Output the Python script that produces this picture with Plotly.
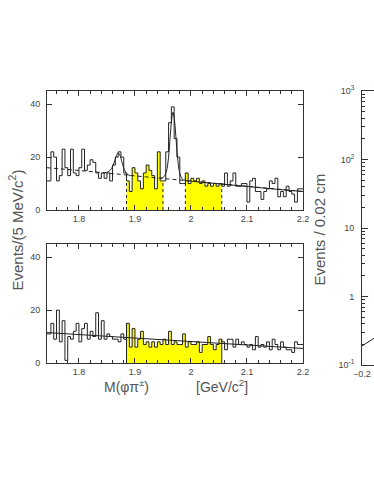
import plotly.graph_objects as go

# ---------------- data ----------------
bin_start = 1.740
bin_width = 0.005

top_counts = [11,
              11, 22, 20, 11, 13, 23, 16, 13, 23, 14, 13, 16, 23, 15, 17, 19, 18, 14, 12, 14, 12, 14, 11, 17, 20, 22, 20, 14,
              11, 7, 16, 14, 11, 8, 14, 17, 15, 13, 8, 22, 11,
              11, 22, 33, 39, 27, 20, 10, 10,
              14, 10, 12, 11, 12, 10, 11, 9, 10, 9, 10, 9, 10,
              9, 14, 9, 11, 14, 9, 9, 10, 10, 3, 11, 12, 7, 7, 4, 7, 8, 11, 10, 12, 5, 7, 5, 9, 7, 6, 3, 8, 8]

bottom_counts = [11,
                 11, 15, 9, 20, 8, 16, 1, 10, 9, 12, 15, 8, 13, 15, 9, 12, 10, 19, 9, 16, 9, 11, 10, 9, 9, 8, 11, 9,
                 15, 6, 13, 6, 9, 12, 7, 8, 6, 8, 6, 8, 7, 9, 7, 12, 7, 8, 7, 7, 11, 6, 8, 7, 7, 8, 4, 7, 7, 10, 7, 5, 7, 9,
                 8, 5, 9, 9, 6, 9, 7, 8, 7, 6, 7, 5, 10, 6, 7, 6, 8, 5, 9, 7, 5, 8, 6, 5, 5, 4, 8, 7, 7]

top_sidebands = [(1.885, 1.95), (1.99, 2.055)]
bottom_sidebands = [(1.885, 2.055)]

# background (dashed) of top fit
top_bkg_x = [1.743, 1.8, 1.85, 1.9, 1.95, 2.0, 2.05, 2.1, 2.15, 2.2]
top_bkg_y = [16.0, 15.0, 14.0, 12.9, 11.9, 10.9, 9.9, 8.9, 7.9, 7.0]
# full fit around D+ peak (solid)
dplus_fit_x = [1.845, 1.852, 1.858, 1.863, 1.867, 1.870, 1.873, 1.877, 1.881, 1.886, 1.892]
dplus_fit_y = [14.1, 14.4, 15.6, 18.0, 20.6, 21.6, 20.8, 18.0, 15.3, 13.6, 13.0]
# full fit around Ds peak and beyond (solid)
ds_fit_x = [1.945, 1.951, 1.956, 1.960, 1.963, 1.966, 1.968, 1.970, 1.973, 1.976, 1.980, 1.985, 1.992, 2.0, 2.05, 2.1, 2.15, 2.2]
ds_fit_y = [12.0, 12.4, 14.5, 20.0, 28.0, 35.0, 37.0, 35.0, 28.0, 20.0, 14.0, 11.6, 11.1, 10.9, 9.9, 8.9, 7.9, 7.0]

bottom_fit_x = [1.743, 2.2]
bottom_fit_y = [11.5, 5.5]

# right (partly visible) panel
right_line_x = [-0.2, -0.145]
right_line_y = [0.19, 0.245]

mass_ticks = [1.8, 1.9, 2.0, 2.1, 2.2]
mass_tick_text = ["1.8", "1.9", "2", "2.1", "2.2"]
count_ticks = [0, 20, 40]
log_ticks = [0.1, 1, 10, 100, 1000]
log_tick_text = ["10<sup>-1</sup>", "1", "10", "10<sup>2</sup>", "10<sup>3</sup>"]

# ---------------- figure ----------------
W, H = 374, 485
def px(x):
    return x / W
def py(y):
    return 1 - y / H

LINE = "#333333"
TXT = "#444444"
FONT = "Liberation Sans, Arial, sans-serif"

fig = go.Figure()

def edges_for(counts):
    return [bin_start + i * bin_width for i in range(len(counts) + 1)]

def add_panel(counts, sidebands, edge_dash, xa, ya):
    edges = edges_for(counts)
    for a, b in sidebands:
        ia = int(round((a - bin_start) / bin_width))
        ib = int(round((b - bin_start) / bin_width))
        xs = edges[ia:ib + 1]
        ys = counts[ia:ib] + [counts[ib - 1]]
        fig.add_trace(go.Scatter(x=xs, y=ys, mode="lines", line=dict(shape="hv", width=0),
                                 fill="tozeroy", fillcolor="#FFFF00", xaxis=xa, yaxis=ya,
                                 hoverinfo="skip", showlegend=False))
    fig.add_trace(go.Scatter(x=edges, y=counts + [counts[-1]], mode="lines",
                             line=dict(shape="hv", width=1, color="#222222"),
                             xaxis=xa, yaxis=ya, showlegend=False))
    for a, b in sidebands:
        ia = int(round((a - bin_start) / bin_width))
        ib = int(round((b - bin_start) / bin_width))
        for xe, v in [(a, counts[ia]), (b, counts[ib - 1])]:
            fig.add_trace(go.Scatter(x=[xe, xe], y=[0, v], mode="lines",
                                     line=dict(width=1, color="#222222", dash=edge_dash),
                                     xaxis=xa, yaxis=ya, showlegend=False))

add_panel(top_counts, top_sidebands, "dot", "x", "y")
add_panel(bottom_counts, bottom_sidebands, "solid", "x2", "y2")

fig.add_trace(go.Scatter(x=top_bkg_x, y=top_bkg_y, mode="lines",
                         line=dict(width=1, color="#222222", dash="4px,3px"),
                         xaxis="x", yaxis="y", showlegend=False))
fig.add_trace(go.Scatter(x=dplus_fit_x, y=dplus_fit_y, mode="lines", line_shape="spline",
                         line=dict(width=1, color="#222222"), xaxis="x", yaxis="y", showlegend=False))
fig.add_trace(go.Scatter(x=ds_fit_x, y=ds_fit_y, mode="lines", line_shape="spline",
                         line=dict(width=1, color="#222222"), xaxis="x", yaxis="y", showlegend=False))
fig.add_trace(go.Scatter(x=bottom_fit_x, y=bottom_fit_y, mode="lines",
                         line=dict(width=1, color="#222222"), xaxis="x2", yaxis="y2", showlegend=False))
fig.add_trace(go.Scatter(x=right_line_x, y=right_line_y, mode="lines",
                         line=dict(width=1, color="#222222"), xaxis="x3", yaxis="y3", showlegend=False))

tickfont = dict(family=FONT, size=9, color=TXT)

mass_axis = dict(range=[1.743, 2.2], tickvals=mass_ticks, ticktext=mass_tick_text,
                 ticks="inside", ticklen=5, tickcolor=LINE, showline=True, linecolor=LINE,
                 linewidth=1, mirror="ticks", showgrid=False, zeroline=False, tickfont=tickfont,
                 automargin=False, ticklabelstandoff=0,
                 minor=dict(tickvals=[1.76, 1.78, 1.82, 1.84, 1.86, 1.88, 1.92, 1.94, 1.96, 1.98,
                                      2.02, 2.04, 2.06, 2.08, 2.12, 2.14, 2.16, 2.18],
                            ticks="inside", ticklen=3, tickcolor=LINE))
count_axis = dict(range=[0, 45], tickvals=count_ticks, ticks="inside", ticklen=5, tickcolor=LINE,
                  showline=True, linecolor=LINE, linewidth=1, mirror="ticks", showgrid=False,
                  zeroline=False, tickfont=tickfont, ticklabelstandoff=4, automargin=False)

fig.update_layout(
    width=W, height=H, margin=dict(l=0, r=0, t=0, b=0, pad=0, autoexpand=False),
    paper_bgcolor="white", plot_bgcolor="white", showlegend=False,
    xaxis=dict(domain=[px(47), px(303)], anchor="y", **mass_axis),
    yaxis=dict(domain=[py(210), py(91)], anchor="x", **count_axis),
    xaxis2=dict(domain=[px(47), px(303)], anchor="y2", **mass_axis),
    yaxis2=dict(domain=[py(363), py(244)], anchor="x2", **count_axis),
    xaxis3=dict(domain=[px(362), 1.0], anchor="y3", range=[-0.2, -0.145], tickvals=[-0.2],
                ticktext=["\u22120.2"], ticks="inside", ticklen=4, tickcolor=LINE, showline=True,
                linecolor=LINE, linewidth=1, mirror=True, showgrid=False, zeroline=False,
                tickfont=tickfont, automargin=False, ticklabelstandoff=0),
    yaxis3=dict(domain=[py(365), py(91)], anchor="x3", type="log", range=[-1, 3],
                tickvals=log_ticks, ticktext=log_tick_text, ticks="inside", ticklen=6,
                tickcolor=LINE, showline=True, linecolor=LINE, linewidth=1, mirror=False,
                showgrid=False, zeroline=False, tickfont=tickfont, ticklabelstandoff=5,
                automargin=False,
                minor=dict(tickvals=[m * 10 ** e for e in range(-1, 3) for m in range(2, 10)],
                           ticks="inside", ticklen=3, tickcolor=LINE)),
)

vfont = dict(family=FONT, size=15, color="#555555")
hfont = dict(family=FONT, size=14, color="#555555")
fig.add_annotation(x=px(4), y=py(230), xref="paper", yref="paper", text="Events/(5 MeV/c<sup>2</sup>)",
                   textangle=-90, showarrow=False, font=vfont)
fig.add_annotation(x=px(126), y=py(397), xref="paper", yref="paper", text="M(\u03c6\u03c0<sup>\u00b1</sup>)",
                   showarrow=False, font=hfont)
fig.add_annotation(x=px(222), y=py(397), xref="paper", yref="paper", text="[GeV/c<sup>2</sup>]",
                   showarrow=False, font=hfont)
fig.add_annotation(x=px(329), y=py(230), xref="paper", yref="paper", text="Events / 0.02 cm",
                   textangle=-90, showarrow=False, font=vfont)

fig.write_html("out.html", config={"displayModeBar": False},
               post_script="document.body.style.margin='0';document.body.style.overflow='hidden';")
